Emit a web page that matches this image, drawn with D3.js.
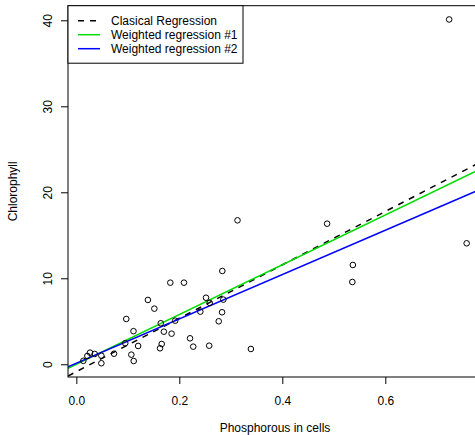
<!DOCTYPE html>
<html>
<head>
<meta charset="utf-8">
<script src="https://cdn.jsdelivr.net/npm/d3@7"></script>
<style>
  body { margin: 0; background: #fff; }
  svg { display: block; font-family: "Liberation Sans", Arial, sans-serif; }
</style>
</head>
<body>
<div id="chart"></div>
<script>
// phosphorous in cells (x) / chlorophyll (y)
var phosphorous = [0.724, 0.758, 0.487, 0.537, 0.536, 0.313, 0.2835, 0.2855, 0.283, 0.2765,
  0.258, 0.339, 0.1825, 0.209, 0.139, 0.1515, 0.2518, 0.259, 0.2408, 0.192,
  0.164, 0.111, 0.170, 0.185, 0.097, 0.120, 0.1658, 0.1625, 0.1068, 0.1114,
  0.0732, 0.0486, 0.0486, 0.0266, 0.0357, 0.0214, 0.0136, 0.2208, 0.227, 0.095];
var chlorophyll = [40.1, 14.07, 16.35, 11.55, 9.57, 16.74, 10.85, 7.52, 6.05, 5.0,
  2.16, 1.78, 9.49, 9.49, 7.48, 6.47, 7.74, 7.14, 6.12, 5.07,
  4.77, 3.85, 3.79, 3.56, 5.27, 2.13, 2.36, 1.86, 1.12, 0.38,
  1.23, 1.0, 0.12, 1.35, 1.2, 0.97, 0.4, 3.02, 2.05, 2.45];

// fitted lines (intercept, slope)
var fitNames = ['Clasical Regression', 'Weighted regression #1', 'Weighted regression #2'];
var fitIntercepts = [-0.86, -0.01, 0.13];
var fitSlopes = [31.05, 28.95, 25.76];
var fitColors = ['#000000', '#00dd00', '#0000ff'];
var fitDash = ['6,6', null, null];

// 0.8 falls outside the window, so it is not drawn
var xTicks = [0.0, 0.2, 0.4, 0.6];
var yTicks = [0, 10, 20, 30, 40];

var width = 475, height = 435;
var plot = { left: 68, top: 5.7, right: 482, bottom: 377 };

// R style 4% extension of the data range
var xr = d3.extent(phosphorous), yr = d3.extent(chlorophyll);
var xPad = (xr[1] - xr[0]) * 0.04, yPad = (yr[1] - yr[0]) * 0.04;
var x = d3.scaleLinear().domain([xr[0] - xPad, xr[1] + xPad]).range([plot.left, plot.right]);
var y = d3.scaleLinear().domain([yr[0] - yPad, yr[1] + yPad]).range([plot.bottom, plot.top]);

var svg = d3.select('#chart').append('svg')
    .attr('width', width)
    .attr('height', height);

svg.append('defs').append('clipPath').attr('id', 'clip')
  .append('rect')
    .attr('x', plot.left).attr('y', plot.top)
    .attr('width', plot.right - plot.left).attr('height', plot.bottom - plot.top);

// axes
var xAxis = d3.axisBottom(x).tickValues(xTicks).tickSize(7).tickPadding(12)
    .tickFormat(d3.format('.1f'));
svg.append('g')
    .attr('transform', 'translate(0,' + plot.bottom + ')')
    .call(xAxis)
    .call(function(g) {
      g.select('.domain').remove();
      g.selectAll('text').attr('font-size', 12).attr('fill', '#000').attr('font-family', null);
    });

var yAxis = d3.axisLeft(y).tickValues(yTicks).tickSize(7).tickFormat(d3.format('d'));
svg.append('g')
    .attr('transform', 'translate(' + plot.left + ',0)')
    .call(yAxis)
    .call(function(g) {
      g.select('.domain').remove();
      g.selectAll('text')
        .attr('font-size', 12).attr('fill', '#000').attr('font-family', null)
        .attr('x', null).attr('dy', null)
        .attr('text-anchor', 'middle')
        .attr('transform', 'translate(-16.5,0) rotate(-90)');
    });

// lines
var lineGroup = svg.append('g').attr('clip-path', 'url(#clip)');
fitNames.forEach(function(name, i) {
  var x0 = x.domain()[0], x1 = x.domain()[1];
  lineGroup.append('line')
      .attr('x1', x(x0)).attr('y1', y(fitIntercepts[i] + fitSlopes[i] * x0))
      .attr('x2', x(x1)).attr('y2', y(fitIntercepts[i] + fitSlopes[i] * x1))
      .attr('stroke', fitColors[i])
      .attr('stroke-width', 1.5)
      .attr('stroke-dasharray', fitDash[i]);
});

// points
svg.append('g').attr('clip-path', 'url(#clip)')
  .selectAll('circle')
  .data(d3.range(phosphorous.length))
  .enter()
  .append('circle')
    .attr('cx', function(i) { return x(phosphorous[i]); })
    .attr('cy', function(i) { return y(chlorophyll[i]); })
    .attr('r', 2.8)
    .attr('fill', 'none')
    .attr('stroke', '#000')
    .attr('stroke-width', 1);

// box
svg.append('rect')
    .attr('x', plot.left).attr('y', plot.top)
    .attr('width', plot.right - plot.left).attr('height', plot.bottom - plot.top)
    .attr('fill', 'none').attr('stroke', '#000').attr('stroke-width', 1);

// axis titles
svg.append('text')
    .attr('x', (plot.left + plot.right) / 2).attr('y', 432)
    .attr('text-anchor', 'middle').attr('font-size', 12)
    .text('Phosphorous in cells');
svg.append('text')
    .attr('transform', 'translate(16.5,' + (plot.top + plot.bottom) / 2 + ') rotate(-90)')
    .attr('text-anchor', 'middle').attr('font-size', 12)
    .text('Chlorophyll');

// legend
var legend = svg.append('g');
legend.append('rect')
    .attr('x', plot.left).attr('y', plot.top)
    .attr('width', 175).attr('height', 57.5)
    .attr('fill', '#fff').attr('stroke', '#000').attr('stroke-width', 1);
var legendRows = legend.selectAll('g.row')
    .data(fitNames)
    .enter()
    .append('g')
    .attr('class', 'row')
    .attr('transform', function(d, i) { return 'translate(0,' + (20.7 + i * 14) + ')'; });
legendRows.append('line')
    .attr('x1', 78).attr('x2', 100)
    .attr('stroke', function(d, i) { return fitColors[i]; })
    .attr('stroke-width', 1.5)
    .attr('stroke-dasharray', function(d, i) { return fitDash[i]; });
legendRows.append('text')
    .attr('x', 111).attr('y', 4.3)
    .attr('font-size', 12)
    .text(function(d) { return d; });
</script>
</body>
</html>
